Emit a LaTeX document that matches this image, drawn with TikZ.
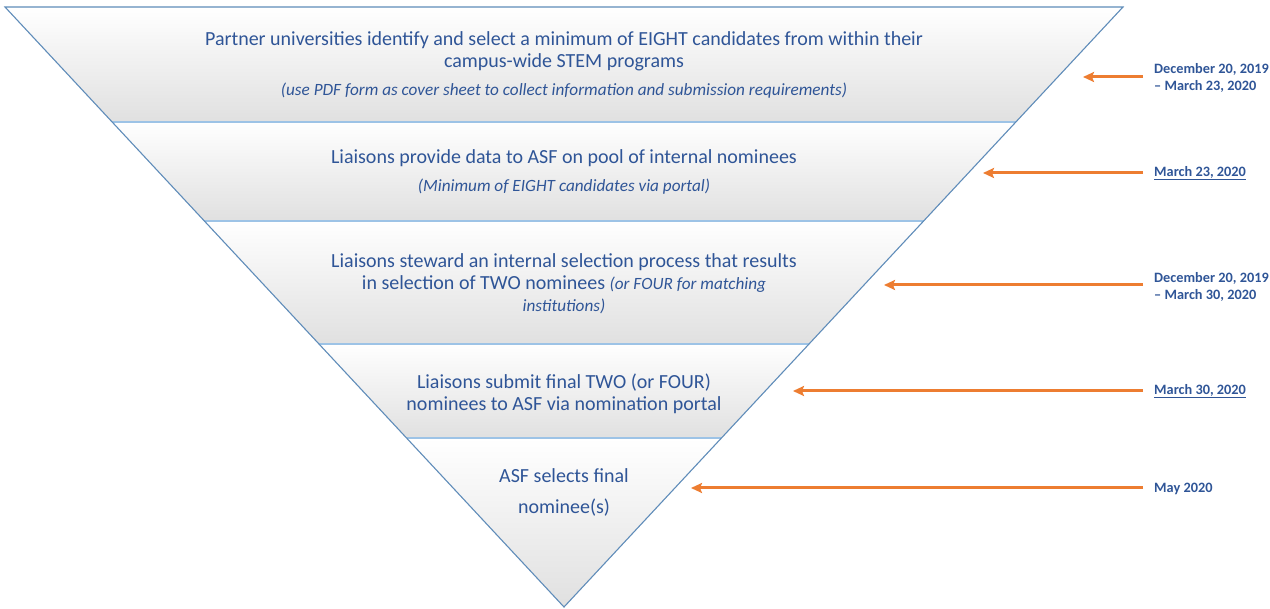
\documentclass[tikz,border=0pt]{standalone}
\usepackage{fontspec}
\setmainfont{Carlito}
\usetikzlibrary{arrows.meta,calc}
\definecolor{txtblue}{RGB}{47,85,151}
\definecolor{edgeblue}{RGB}{95,140,185}
\definecolor{sepblue}{RGB}{157,195,230}
\definecolor{bandgray}{RGB}{224,224,224}
\definecolor{arrorange}{RGB}{237,125,49}
\newcommand{\mainsz}{\fontsize{20}{22}\selectfont}
\newcommand{\itsz}{\fontsize{17.2}{21}\selectfont\itshape}
\begin{document}
\begin{tikzpicture}[x=1pt,y=-1pt,
  band/.style={top color=white, middle color=white, bottom color=bandgray},
  sep/.style={draw=sepblue, line width=1.5pt},
  maintext/.style={text=txtblue, align=center, inner sep=0pt, font=\mainsz},
  ittext/.style={text=txtblue, align=center, inner sep=0pt, font=\itsz},
  datetext/.style={text=txtblue, align=left, inner sep=0pt, anchor=west, font=\fontsize{14.3}{17}\selectfont\bfseries},
  arr/.style={draw=arrorange, line width=3pt, -{Stealth[length=11pt,width=10pt,inset=2pt]}, shorten <=11pt}
]
\path[use as bounding box] (0,0) rectangle (1270,609);
% bands
\path[band] (5,7) -- (1123,7) -- (1015.9,122) -- (112.1,122) -- cycle;
\path[band] (112.1,122) -- (1015.9,122) -- (923.6,221) -- (204.4,221) -- cycle;
\path[band] (204.4,221) -- (923.6,221) -- (809.0,344) -- (319.0,344) -- cycle;
\path[band] (319.0,344) -- (809.0,344) -- (721.4,438) -- (406.6,438) -- cycle;
\path[band] (406.6,438) -- (721.4,438) -- (564,607) -- cycle;
% separators
\draw[sep] (112.1,122) -- (1015.9,122);
\draw[sep] (204.4,221) -- (923.6,221);
\draw[sep] (319.0,344) -- (809.0,344);
\draw[sep] (406.6,438) -- (721.4,438);
% outline
\draw[draw=edgeblue, line width=1.1pt, line join=miter] (5,7) -- (1123,7) -- (564,607) -- cycle;
% texts
\node[maintext] (b1) at (564,51) {Partner universities identify and select a minimum of EIGHT candidates from within their\\campus-wide STEM programs};
\node[ittext] (b1i) at (564,91) {(use PDF form as cover sheet to collect information and submission requirements)};
\node[maintext] (b2) at (564,158) {Liaisons provide data to ASF on pool of internal nominees};
\node[ittext] (b2i) at (564,187) {(Minimum of EIGHT candidates via portal)};
\node[maintext] (b3) at (564,284) {Liaisons steward an internal selection process that results\\in selection of TWO nominees {\itsz (or FOUR for matching}\\{\itsz institutions)}};
\node[maintext] (b4) at (564,393.5) {Liaisons submit final TWO (or FOUR)\\nominees to ASF via nomination portal};
\node[maintext, font=\fontsize{20}{31}\selectfont] (b5) at (564,492.5) {ASF selects final\\nominee(s)};
% dates
\node[datetext] (d1) at (1154,78) {December 20, 2019\\– March 23, 2020};
\node[datetext] (d2) at (1154,173) {\underline{March 23, 2020}};
\node[datetext] (d3) at (1154,287) {December 20, 2019\\– March 30, 2020};
\node[datetext] (d4) at (1154,391) {\underline{March 30, 2020}};
\node[datetext] (d5) at (1154,489) {May 2020};
% arrow tips
\coordinate (t1) at (1083,77);
\coordinate (t2) at (983,173);
\coordinate (t3) at (884,285);
\coordinate (t4) at (793,391);
\coordinate (t5) at (691,488);
\draw[arr] (d1.west |- t1) -- (t1);
\draw[arr] (d2.west |- t2) -- (t2);
\draw[arr] (d3.west |- t3) -- (t3);
\draw[arr] (d4.west |- t4) -- (t4);
\draw[arr] (d5.west |- t5) -- (t5);
\end{tikzpicture}
\end{document}
